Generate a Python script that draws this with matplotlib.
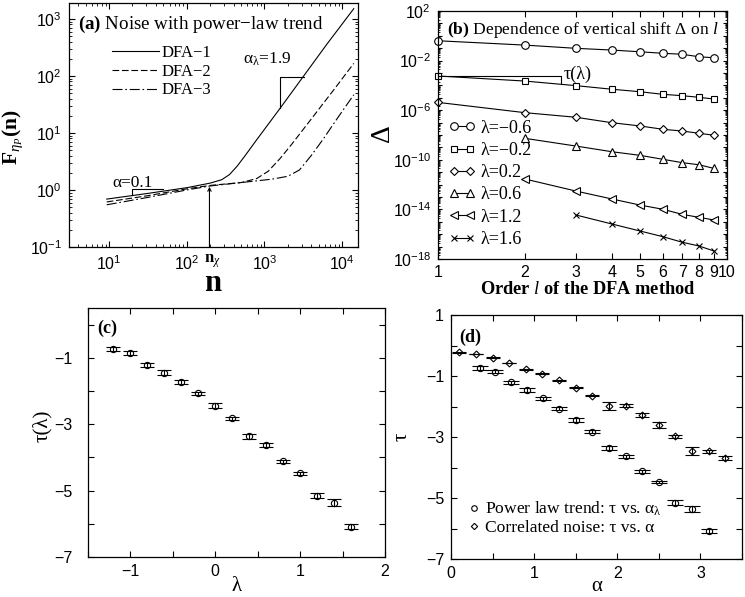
import numpy as np
import matplotlib
matplotlib.use("Agg")
import matplotlib.pyplot as plt
import matplotlib.transforms as mtransforms
from matplotlib.ticker import FixedLocator, FuncFormatter, LogLocator, MultipleLocator, NullLocator, NullFormatter
from matplotlib.lines import Line2D

plt.rcParams["font.family"] = ["Liberation Sans", "DejaVu Sans"]
plt.rcParams["mathtext.fontset"] = "custom"
plt.rcParams["mathtext.rm"] = "Liberation Serif"
plt.rcParams["mathtext.it"] = "Liberation Serif:italic"
plt.rcParams["mathtext.bf"] = "Liberation Serif:bold"
plt.rcParams["mathtext.sf"] = "Liberation Sans"
SERIF = ["Liberation Serif", "DejaVu Serif"]

# ---- (a) DFA fluctuation functions (log10 n, log10 F)
logn_dfa1 = [0.97, 1.5, 2.0, 2.3, 2.45, 2.55, 2.65, 2.75, 2.9, 3.2, 3.5, 3.8, 4.15]
logF_dfa1 = [-0.16, -0.06, 0.04, 0.12, 0.18, 0.27, 0.42, 0.6, 0.88, 1.43, 1.99, 2.55, 3.18]
logn_dfa2 = [0.97, 1.5, 2.0, 2.3, 2.7, 2.9, 3.05, 3.2, 3.35, 3.6, 3.9, 4.15]
logF_dfa2 = [-0.21, -0.10, 0.02, 0.08, 0.13, 0.2, 0.33, 0.55, 0.8, 1.24, 1.77, 2.22]
logn_dfa3 = [0.97, 1.5, 2.0, 2.3, 2.7, 3.1, 3.3, 3.45, 3.6, 3.75, 3.95, 4.15]
logF_dfa3 = [-0.26, -0.13, 0.0, 0.07, 0.13, 0.19, 0.24, 0.35, 0.6, 0.88, 1.28, 1.67]
dfa_labels = ["DFA−1", "DFA−2", "DFA−3"]

# ---- (b) vertical shift Delta vs order l (log10 Delta)
orders = [1, 2, 3, 4, 5, 6, 7, 8, 9]
orders_from2 = [2, 3, 4, 5, 6, 7, 8, 9]
orders_from3 = [3, 4, 5, 6, 7, 8, 9]
logd_m06 = [-0.40, -0.75, -1.01, -1.15, -1.29, -1.41, -1.49, -1.69, -1.77]
logd_m02 = [-3.24, -3.65, -4.02, -4.31, -4.51, -4.72, -4.83, -4.96, -5.10]
logd_p02 = [-5.37, -6.20, -6.57, -7.01, -7.27, -7.54, -7.68, -7.86, -8.02]
logd_p06 = [-8.27, -8.89, -9.35, -9.64, -9.96, -10.23, -10.40, -10.69]
logd_p12 = [-11.55, -12.52, -13.16, -13.65, -13.99, -14.40, -14.64, -14.85]
logd_p16 = [-14.45, -15.18, -15.74, -16.20, -16.65, -16.95, -17.35]
lam_labels = ["λ=−0.6", "λ=−0.2", "λ=0.2", "λ=0.6", "λ=1.2", "λ=1.6"]

# ---- (c)/(d) exponent tau
lam = [-1.2, -1.0, -0.8, -0.6, -0.4, -0.2, 0.0, 0.2, 0.4, 0.6, 0.8, 1.0, 1.2, 1.4, 1.6]
tau = [-0.73, -0.86, -1.21, -1.45, -1.73, -2.07, -2.44, -2.82, -3.37, -3.63, -4.12, -4.48, -5.15, -5.36, -6.09]
tau_err = [0.06, 0.05, 0.06, 0.07, 0.05, 0.05, 0.07, 0.04, 0.07, 0.05, 0.05, 0.04, 0.08, 0.10, 0.07]
alpha_lam = [0.35, 0.53, 0.72, 0.91, 1.11, 1.3, 1.5, 1.7, 1.9, 2.1, 2.3, 2.5, 2.7, 2.9, 3.1]
alpha_noise = [0.1, 0.3, 0.5, 0.7, 0.9, 1.1, 1.3, 1.5, 1.7, 1.9, 2.1, 2.3, 2.5, 2.7, 2.9, 3.1, 3.3]
tau_noise = [-0.22, -0.28, -0.40, -0.57, -0.78, -0.93, -1.14, -1.38, -1.65, -1.98, -1.98,
             -2.27, -2.60, -2.97, -3.47, -3.47, -3.68]
tau_noise_err = [0.01, 0.015, 0.01, 0.01, 0.015, 0.015, 0.02, 0.01, 0.02, 0.12, 0.05,
                 0.07, 0.09, 0.05, 0.13, 0.06, 0.07]

W, H = 745, 597
fig = plt.figure(figsize=(W / 100, H / 100), dpi=100)


def px_axes(l, t, r, b):
    return fig.add_axes([l / W, 1 - b / H, (r - l) / W, (b - t) / H])


def style_ticks(ax):
    ax.tick_params(which="both", direction="in", top=True, right=True, labelsize=11.5, pad=5)
    ax.tick_params(which="major", length=4, width=0.8)
    ax.tick_params(which="minor", length=2, width=0.6)
    for s in ax.spines.values():
        s.set_linewidth(0.9)


# ================= (a)
ax_a = px_axes(69, 3, 358, 247)
ax_a.plot(10 ** np.array(logn_dfa1), 10 ** np.array(logF_dfa1), "k-", lw=0.8, label=dfa_labels[0])
ax_a.plot(10 ** np.array(logn_dfa2), 10 ** np.array(logF_dfa2), "k", lw=0.8, ls=(0, (6, 2.5)), label=dfa_labels[1])
ax_a.plot(10 ** np.array(logn_dfa3), 10 ** np.array(logF_dfa3), "k", lw=0.8, ls=(0, (9, 2.5, 1.5, 2.5)), label=dfa_labels[2])
ax_a.set_xscale("log")
ax_a.set_yscale("log")
ax_a.set_xlim(3.05, 1.6e4)
ax_a.set_ylim(0.1, 1900)
ax_a.xaxis.set_major_locator(FixedLocator([1e1, 1e2, 1e3, 1e4]))
ax_a.yaxis.set_major_locator(FixedLocator([1e-1, 1e0, 1e1, 1e2, 1e3]))
ax_a.xaxis.set_minor_locator(LogLocator(base=10, subs=np.arange(2, 10), numticks=50))
ax_a.yaxis.set_minor_locator(LogLocator(base=10, subs=np.arange(2, 10), numticks=50))
ax_a.xaxis.set_minor_formatter(NullFormatter())
ax_a.yaxis.set_minor_formatter(NullFormatter())
style_ticks(ax_a)
ax_a.text(0.03, 0.955, r"$\mathbf{(a)}$ Noise with power−law trend", transform=ax_a.transAxes,
          family=SERIF, fontsize=13.7, va="top", ha="left")
ax_a.legend(loc="upper left", bbox_to_anchor=(0.12, 0.862), frameon=False, prop={"family": SERIF, "size": 12},
            handlelength=2.8, handletextpad=0.2, labelspacing=0.16, borderpad=0)
# slope markers
ax_a.plot([20, 20, 50], [0.82, 1.03, 1.03], "k-", lw=0.8)
ax_a.text(10.9, 1.13, "α=0.1", family=SERIF, fontsize=12.5, ha="left", va="baseline")
ax_a.plot([1567, 1567, 3190], [27, 97.5, 97.5], "k-", lw=0.8)
ax_a.text(533, 165, r"α$_{\mathrm{λ}}$=1.9", family=SERIF, fontsize=12.5, ha="left", va="baseline")
ax_a.annotate("", xy=(196, 1.14), xytext=(196, 0.1),
              arrowprops=dict(arrowstyle="->", lw=0.8, color="k", mutation_scale=6, shrinkA=0, shrinkB=0))
trans_a = mtransforms.blended_transform_factory(ax_a.transData, ax_a.transAxes)
ax_a.text(212, -0.062, r"$\mathbf{n}_{\chi}$", transform=trans_a, fontsize=12, ha="center", va="baseline")
ax_a.set_xlabel("n", family=SERIF, fontsize=22, fontweight="bold", va="baseline")
ax_a.xaxis.set_label_coords((213 - 69) / 289, (247 - 291) / 244)
ax_a.set_ylabel(r"$\mathbf{F}_{\eta_P}\mathbf{(n)}$", fontsize=15.5, va="center")
ax_a.yaxis.set_label_coords((13 - 69) / 289, 0.45)

# ================= (b)
ax_b = px_axes(438, 11, 727, 259)
series_b = [(orders, logd_m06, "o", 5.5), (orders, logd_m02, "s", 5), (orders, logd_p02, "D", 4),
            (orders_from2, logd_p06, "^", 5.5), (orders_from2, logd_p12, "<", 5.5), (orders_from3, logd_p16, "x", 4)]
for (xs, ld, mk, ms), lab in zip(series_b, lam_labels):
    ax_b.plot(xs, 10 ** np.array(ld), color="k", lw=0.8, marker=mk, ms=ms, mfc="white", mec="k", mew=0.8,
              label=lab, clip_on=False)
ax_b.set_xscale("log")
ax_b.set_yscale("log")
ax_b.set_xlim(1, 10)
ax_b.set_ylim(1e-18, 1e2)
ax_b.xaxis.set_major_locator(FixedLocator(list(range(1, 11))))
ax_b.xaxis.set_major_formatter(FuncFormatter(lambda v, p: "%d" % round(v)))
ax_b.xaxis.set_minor_locator(NullLocator())
ax_b.yaxis.set_major_locator(FixedLocator([10.0 ** e for e in range(-18, 3)]))
ax_b.yaxis.set_major_formatter(FuncFormatter(
    lambda v, p: (r"$\mathdefault{10^{%d}}$" % round(np.log10(v))) if (round(np.log10(v)) - 2) % 4 == 0 else ""))
ax_b.yaxis.set_minor_locator(LogLocator(base=10, subs=np.arange(2, 10), numticks=200))
ax_b.yaxis.set_minor_formatter(NullFormatter())
style_ticks(ax_b)
ax_b.tick_params(axis="x", pad=4)
ax_b.tick_params(axis="y", which="major", length=3)
ax_b.tick_params(axis="y", which="minor", length=1.5)
ax_b.text(0.03, 0.965, r"$\mathbf{(b)}$ Dependence of vertical shift Δ on $\mathit{l}$", transform=ax_b.transAxes,
          family=SERIF, fontsize=12.6, va="top", ha="left")
ax_b.plot([1, 2.66, 2.66], [10 ** -3.24, 10 ** -3.24, 10 ** -3.91], "k-", lw=0.8)
ax_b.text(2.72, 10 ** -3.1, "τ(λ)", family=SERIF, fontsize=13, ha="left", va="center")
ax_b.legend(loc="upper left", bbox_to_anchor=(0.005, 0.598), frameon=False, prop={"family": SERIF, "size": 13},
            numpoints=2, handlelength=1.5, handletextpad=0.3, labelspacing=0.29, borderpad=0)
ax_b.set_xlabel(r"Order $\mathit{l}$ of the DFA method", family=SERIF, fontsize=13.2, fontweight="bold",
                va="baseline")
ax_b.xaxis.set_label_coords((588 - 438) / 289, (259 - 294) / 248)
ax_b.set_ylabel("Δ", family=SERIF, fontsize=20, va="center")
ax_b.yaxis.set_label_coords((383 - 438) / 289, (259 - 133) / 248)

# ================= (c)
ax_c = px_axes(88, 308, 385, 557)
ax_c.errorbar(lam, tau, yerr=tau_err, fmt="o", ms=4.5, mfc="none", mec="k", mew=0.8,
              ecolor="k", elinewidth=0.8, capsize=5, capthick=0.8)
ax_c.set_xlim(-1.5, 2)
ax_c.set_ylim(-7, 0.5)
ax_c.xaxis.set_major_locator(FixedLocator([-1, 0, 1, 2]))
ax_c.xaxis.set_minor_locator(MultipleLocator(0.5))
ax_c.yaxis.set_major_locator(FixedLocator([-7, -5, -3, -1]))
ax_c.yaxis.set_minor_locator(MultipleLocator(1))
style_ticks(ax_c)
ax_c.tick_params(which="minor", length=4, width=0.8)
ax_c.tick_params(axis="y", pad=11)
ax_c.text(0.03, 0.955, "(c)", transform=ax_c.transAxes, family=SERIF, fontsize=13, fontweight="bold",
          va="top", ha="left")
ax_c.set_xlabel("λ", family=SERIF, fontsize=15, va="bottom")
ax_c.xaxis.set_label_coords(0.5, (557 - 596) / 249)
ax_c.set_ylabel("τ(λ)", family=SERIF, fontsize=15, va="center")
ax_c.yaxis.set_label_coords((42 - 88) / 297, (557 - 426) / 249)

# ================= (d)
ax_d = px_axes(451, 315, 742, 559)
ax_d.errorbar(alpha_lam, tau, yerr=tau_err, fmt="o", ms=4.5, mfc="none", mec="k", mew=0.8,
              ecolor="k", elinewidth=0.8, capsize=5.5, capthick=0.8)
ax_d.errorbar(alpha_noise, tau_noise, yerr=tau_noise_err, fmt="D", ms=3.5, mfc="none", mec="k", mew=0.8,
              ecolor="k", elinewidth=0.8, capsize=5, capthick=0.8)
ax_d.set_xlim(0, 3.5)
ax_d.set_ylim(-7, 1)
ax_d.xaxis.set_major_locator(FixedLocator([0, 1, 2, 3]))
ax_d.xaxis.set_minor_locator(MultipleLocator(0.5))
ax_d.yaxis.set_major_locator(FixedLocator([-7, -5, -3, -1, 1]))
ax_d.yaxis.set_minor_locator(MultipleLocator(1))
style_ticks(ax_d)
ax_d.tick_params(which="minor", length=4, width=0.8)
ax_d.text(0.03, 0.945, "(d)", transform=ax_d.transAxes, family=SERIF, fontsize=13, fontweight="bold",
          va="top", ha="left")
handles_d = [Line2D([], [], ls="none", marker="o", ms=4, mfc="none", mec="k", mew=0.8),
             Line2D([], [], ls="none", marker="D", ms=3.2, mfc="none", mec="k", mew=0.8)]
ax_d.legend(handles_d, [r"Power law trend: τ vs. α$_{\mathrm{λ}}$", "Correlated noise: τ vs. α"],
            loc="upper left", bbox_to_anchor=(0.03, 0.278), frameon=False, prop={"family": SERIF, "size": 12.6},
            handlelength=0.6, handletextpad=0.35, labelspacing=0.08, borderpad=0)
ax_d.set_xlabel("α", family=SERIF, fontsize=15, va="bottom")
ax_d.xaxis.set_label_coords(0.5, (559 - 596) / 244)
ax_d.set_ylabel("τ", family=SERIF, fontsize=15, va="center")
ax_d.yaxis.set_label_coords((402 - 451) / 291, 0.5)

fig.savefig("out.png", dpi=100)
